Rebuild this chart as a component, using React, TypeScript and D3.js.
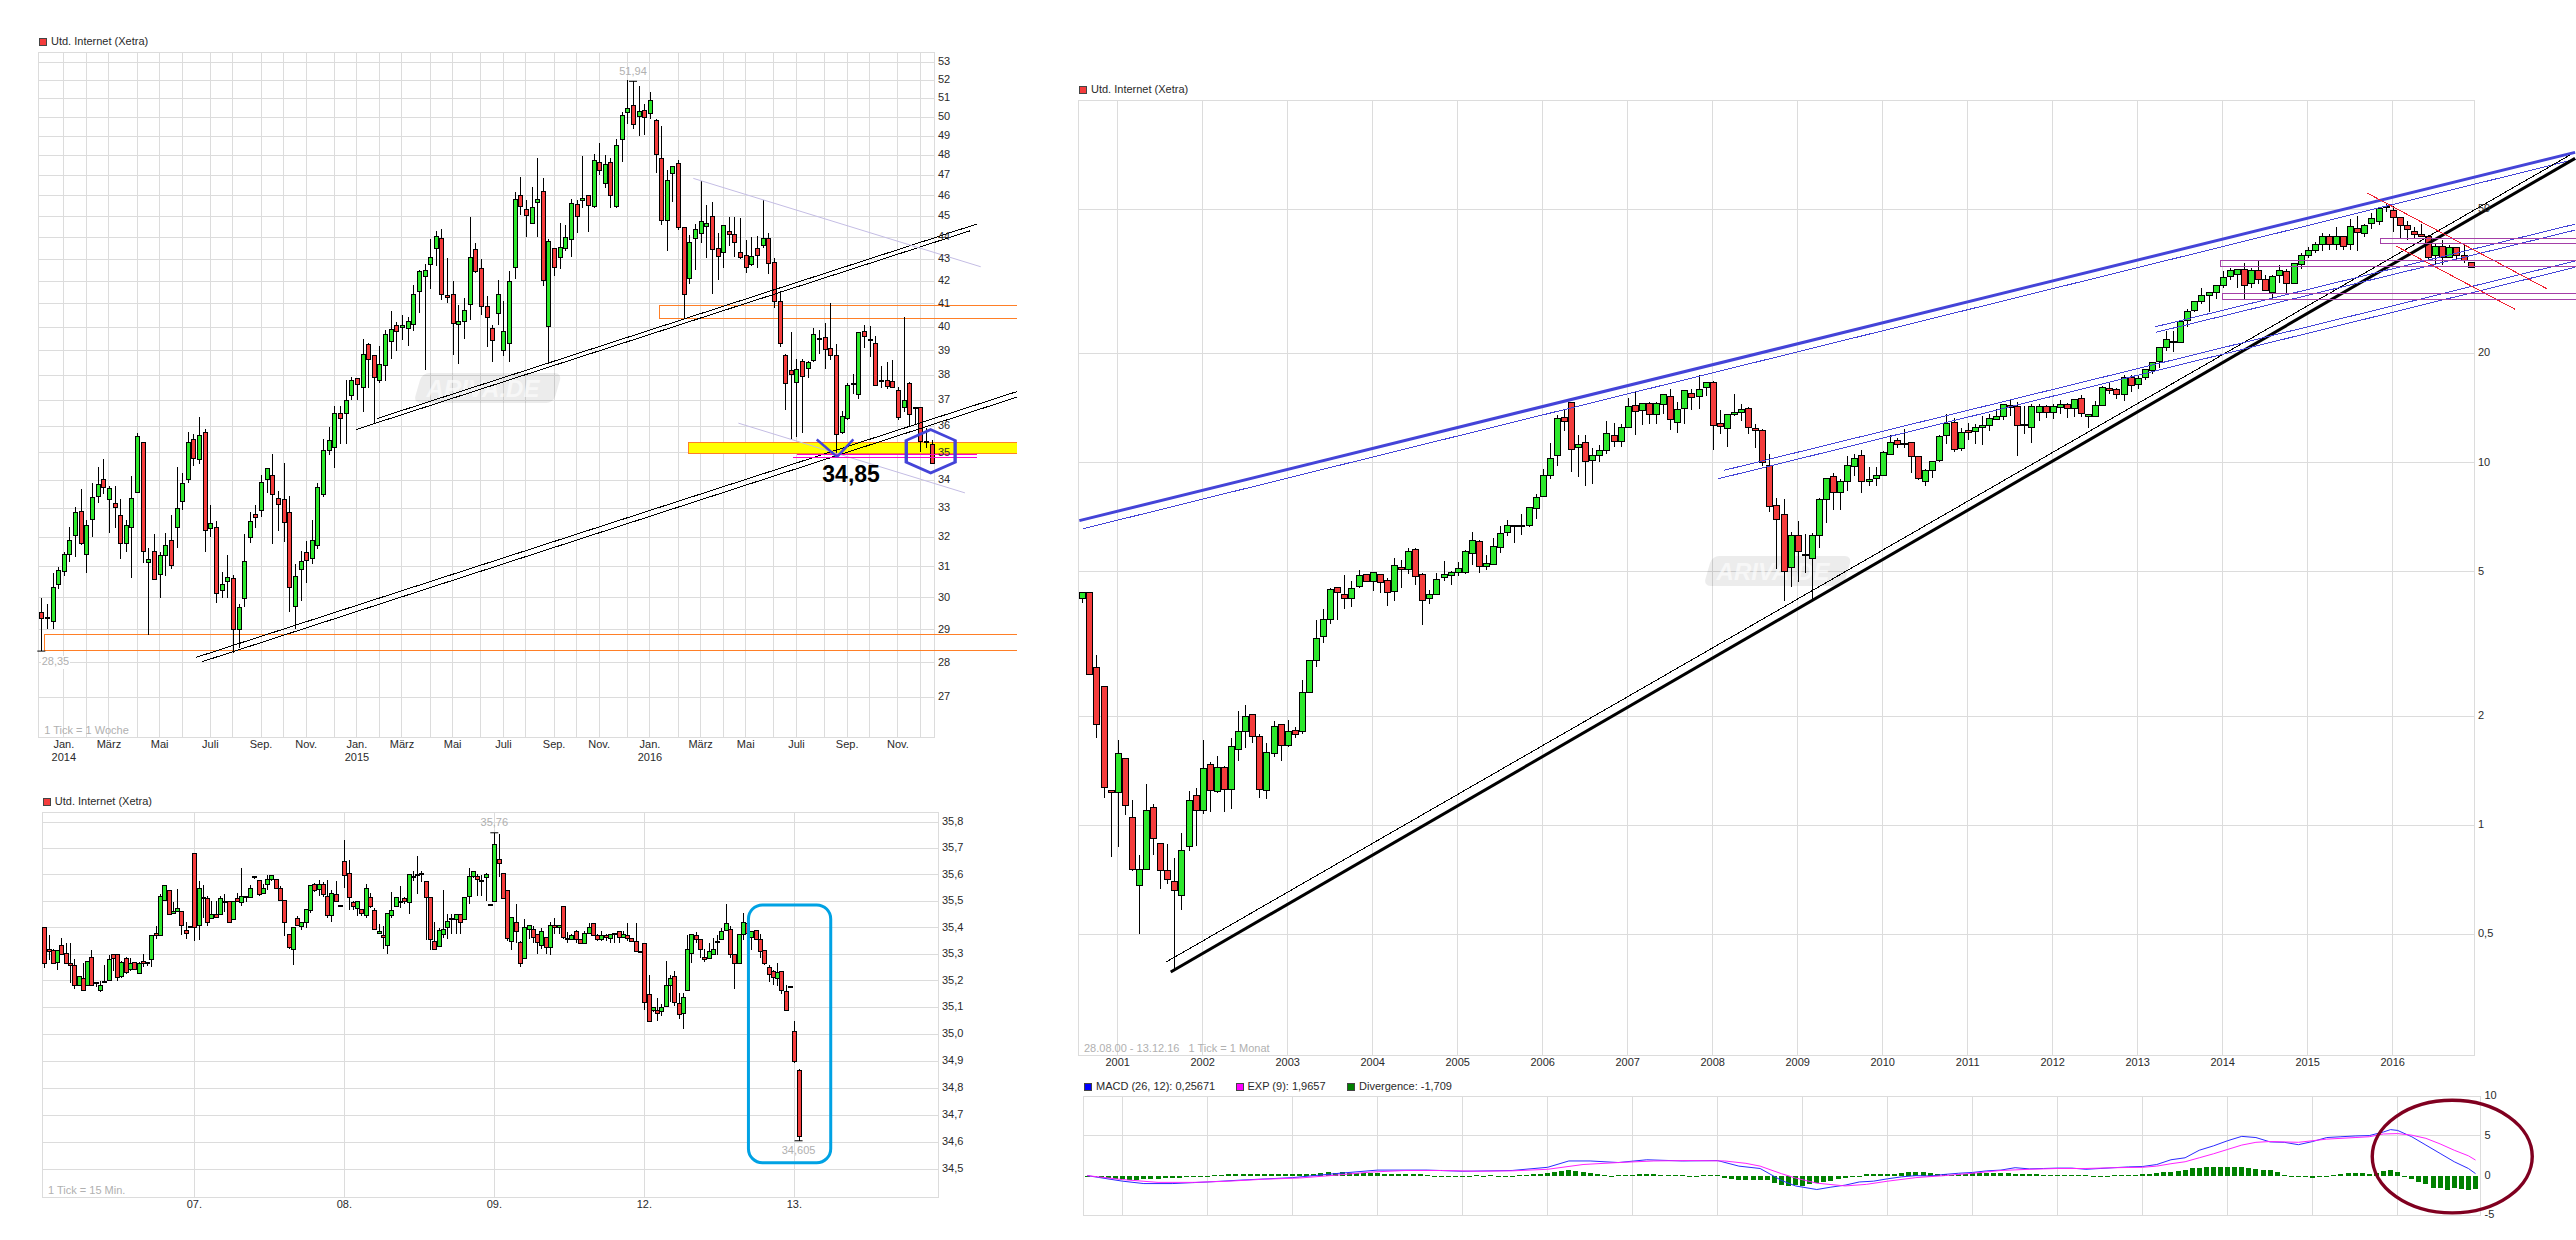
import * as d3 from "d3";

type Row = number[]; // open, high, low, close

const TITLE = "Utd. Internet (Xetra)";

// weekly chart, top left
const weeklyRows: Row[] = [
  [29.55,30,28.35,29.35],[29.38,29.8,29.02,29.37],[29.24,30.8,29.03,30.32],[30.42,31,30.27,30.9],[30.85,31.5,30.7,31.4],
  [31.4,32.35,31.17,31.9],[32.07,33.03,31.33,32.86],[32.9,33.67,31.74,31.77],[31.4,32.58,30.8,32.41],[32.6,33.88,32.02,33.38],
  [33.42,34.48,33.18,33.85],[34.03,34.78,33.49,33.74],[33.32,33.78,32.13,33.7],[33.18,33.78,32.3,33.04],[32.76,33.32,31.27,31.8],
  [31.77,32.6,31.5,32.41],[32.33,34.14,30.63,33.35],[33.56,35.75,33.56,35.6],[35.4,35.4,31.14,31.5],[31.14,31.63,28.84,31.24],
  [31.5,32.1,30.58,30.6],[30.75,31.5,30,31.37],[31.37,32.13,30.72,31.7],[31.9,32.76,30.95,31.04],[32.33,34.48,31.63,33],
  [33.25,34.25,32.93,33.88],[34.02,35.8,33.88,35.4],[35.5,35.7,34.5,34.78],[34.74,36.35,34.59,35.63],[35.75,35.9,31.5,32.24],
  [32.3,33.1,32,32.47],[32.33,32.55,29.85,30.13],[30.23,30.85,30,30.42],[30.52,31.4,30,30.65],[30.62,30.75,28.3,29.02],
  [29,29.8,28.45,29.68],[29.97,32.1,29.7,31.17],[32,32.86,31.8,32.55],[32.78,33.1,32.31,32.68],[32.93,34.2,32.68,33.92],
  [34.02,34.43,33.53,34.43],[34.17,34.95,31.75,33.49],[33.35,33.6,32.2,33.14],[33.32,34.63,31.85,32.5],[32.86,33.42,29.55,30.32],
  [29.72,31.1,29.02,30.7],[30.91,31.54,29.9,31.17],[31.47,31.87,30.47,31.21],[31.27,32.6,31.1,31.87],[31.7,33.88,31.6,33.74],
  [33.49,35.5,33.38,35.1],[35.08,35.98,34.93,35.45],[35.19,36.77,34.43,36.5],[36.5,36.77,35.33,36.31],[36.5,37.8,35.33,37],
  [37.2,37.92,37,37.8],[37.88,37.9,37.03,37.64],[37.52,39.5,36.56,38.86],[39.25,39.33,37.48,38.65],[38.83,38.83,36.1,37.92],
  [37.8,39.2,37.68,38.46],[38.42,39.87,37.76,39.67],[39.38,40.7,38.68,39.92],[40.09,40.22,38.99,39.83],[40,40.52,39.44,40.09],
  [39.96,40.43,39.2,40.26],[40.13,41.83,39.83,41.39],[41.55,42.5,40.6,42.45],[42.23,42.77,38.2,42.5],[42.77,43.95,41.65,43.09],
  [43.5,44.28,42.67,44.05],[43.95,44.38,41.17,41.39],[41.35,43.05,41.04,41.26],[41.43,42,38.83,40.17],[40.13,40.93,38.46,40.26],
  [40.22,41.26,39.5,40.7],[40.96,44.95,40.3,43.09],[43.45,43.72,42.36,42.45],[42.55,43,40.52,40.87],[40.87,41.35,39.17,40.39],
  [39.96,40.09,38.53,39.42],[40.57,42.05,40.09,41.43],[39,41.13,38.8,39.83],[39.33,42.45,38.53,42],[42.6,46.2,42.1,45.8],
  [46,46.9,45.05,45.48],[45.33,45.8,44,45.05],[44.65,46.4,44.65,45.42],[45.68,47.85,44,45.8],[46.2,46.85,41.77,42.05],
  [40.04,43.95,38.45,43.82],[43.5,43.5,42.23,42.63],[43.05,44.7,42.55,43.55],[43.5,44.6,43.36,44],[43.9,45.85,43.1,45.62],
  [45.57,45.8,44.2,45],[45.75,47.97,45.4,45.85],[46,46.05,44.25,45.5],[45.48,48.1,45.38,47.75],[47.65,48.65,47,47.25],
  [46.6,48.05,46.35,47.55],[47.65,47.9,45.4,46],[45.48,48.85,45.38,48.52],[48.8,50.3,47.65,50.1],[50.26,52,49.63,50.47],
  [50.63,51.94,49.39,49.6],[50.05,51.67,49,50.3],[50.37,50.7,49.05,50],[50.2,51.33,49.9,50.9],[49.8,49.9,47.1,48.05],
  [47.85,49.55,44.57,44.8],[44.8,47.25,43.36,46.75],[47.1,47.45,45.68,47.45],[47.6,47.75,44.33,44.48],[44.48,44.48,40.4,41.39],
  [42.1,44.13,41.87,43.77],[43.95,44.65,42.5,44.38],[44.2,46.7,43.72,44.75],[44.52,45.52,43.05,44.65],[45,45.7,41.43,43.45],
  [43.5,44.2,42.05,43.13],[43.32,44.6,42.6,44.57],[44.28,44.95,43.6,44.14],[44.14,44.95,43.09,43.77],[43.32,44.9,43,43.09],
  [43.18,43.86,42.36,42.63],[42.73,44,42.68,43.14],[43.5,44.05,42.6,43.18],[43.64,45.8,43.5,43.95],[43.95,44.2,42.32,42.82],
  [42.86,43.05,40.83,41.09],[41.09,41.55,39.17,39.33],[38.8,38.86,36.62,37.68],[38.2,39.78,35.52,38.04],[37.72,38.67,35.6,38.25],
  [38.58,38.67,35.75,37.96],[38.28,38.58,37.88,38.53],[38.62,39.96,38.53,39.67],[39.46,39.87,38.86,39.54],[39.58,40.17,38.25,39.04],
  [39.12,41.04,38.62,38.8],[38.8,39.3,34.85,35.69],[35.75,36.6,35.7,36.37],[36.3,37.68,36.25,37.6],[37.65,38.07,37.25,37.68],
  [37.25,39.78,37.04,39.78],[39.83,40.08,39.12,39.62],[39.46,40.04,38.75,39.42],[39.33,39.62,37.6,37.6],[37.8,38.37,37.48,37.76],
  [37.8,38.53,37.44,37.56],[37.76,38.62,37.48,37.52],[37.4,37.52,36.25,36.35],[36.73,40.43,36.54,37],[37.68,37.72,36.02,36.47],
  [36.72,36.75,36.06,36.7],[36.72,36.75,35.03,35.44],[35.41,35.94,35.19,35.37],[35.31,35.47,34.62,34.62],
];
const weeklyTicks = [4,8,12,17,21,25,30,34,39,43,47,52,56,60,64,69,73,78,82,86,91,95,99,104,108,113,117,121,125,130,134,139,143,147,152,156];
const weeklyLabelIndex = [4,12,21,30,39,47,56,64,73,82,91,99,108,117,125,134,143,152];
const weeklyLabels = ["Jan.","März","Mai","Juli","Sep.","Nov.","Jan.","März","Mai","Juli","Sep.","Nov.","Jan.","März","Mai","Juli","Sep.","Nov."];
const weeklyYears = [[4,"2014"],[56,"2015"],[108,"2016"]] as [number,string][];
const weeklyPriceTicks = d3.range(27, 54);

// 15 minute chart, bottom left
const intradayRows: Row[] = [
  [35.4,35.4,35.249,35.266],[35.318,35.374,35.277,35.311],[35.315,35.318,35.266,35.266],[35.27,35.315,35.24,35.315],[35.333,35.363,35.3,35.3],
  [35.304,35.344,35.266,35.266],[35.266,35.344,35.192,35.259],[35.259,35.281,35.169,35.184],[35.184,35.215,35.179,35.215],[35.207,35.266,35.165,35.165],
  [35.184,35.274,35.184,35.274],[35.289,35.315,35.184,35.184],[35.192,35.192,35.177,35.191],[35.165,35.2,35.16,35.181],[35.192,35.259,35.192,35.196],
  [35.2,35.296,35.2,35.281],[35.3,35.3,35.237,35.285],[35.3,35.3,35.2,35.211],[35.215,35.274,35.211,35.27],[35.285,35.289,35.226,35.23],
  [35.241,35.285,35.237,35.266],[35.27,35.27,35.241,35.244],[35.226,35.27,35.226,35.266],[35.274,35.3,35.252,35.266],[35.27,35.27,35.254,35.267],
  [35.281,35.37,35.252,35.37],[35.377,35.408,35.359,35.37],[35.37,35.527,35.37,35.519],[35.504,35.558,35.504,35.558],[35.542,35.542,35.45,35.45],
  [35.454,35.496,35.454,35.461],[35.461,35.546,35.461,35.473],[35.461,35.461,35.374,35.408],[35.388,35.423,35.359,35.377],[35.404,35.404,35.404,35.403],
  [35.681,35.681,35.348,35.4],[35.408,35.577,35.355,35.55],[35.515,35.561,35.435,35.512],[35.512,35.519,35.408,35.419],[35.435,35.5,35.435,35.45],
  [35.45,35.5,35.435,35.438],[35.45,35.519,35.45,35.512],[35.499,35.527,35.461,35.5],[35.5,35.5,35.419,35.419],[35.431,35.5,35.431,35.5],
  [35.512,35.531,35.496,35.5],[35.496,35.626,35.481,35.519],[35.519,35.519,35.496,35.518],[35.515,35.561,35.515,35.55],[35.592,35.593,35.586,35.59],
  [35.577,35.577,35.519,35.527],[35.531,35.565,35.527,35.55],[35.565,35.6,35.542,35.581],[35.581,35.596,35.577,35.596],[35.581,35.581,35.546,35.55],
  [35.55,35.558,35.504,35.504],[35.504,35.504,35.37,35.419],[35.374,35.374,35.318,35.326],[35.318,35.404,35.259,35.4],[35.435,35.446,35.408,35.408],
  [35.404,35.419,35.392,35.419],[35.419,35.469,35.4,35.469],[35.465,35.561,35.454,35.561],[35.565,35.569,35.535,35.542],[35.546,35.581,35.519,35.565],
  [35.565,35.573,35.515,35.527],[35.519,35.581,35.438,35.446],[35.446,35.542,35.423,35.531],[35.527,35.577,35.5,35.5],[35.485,35.485,35.484,35.484],
  [35.652,35.734,35.55,35.596],[35.607,35.655,35.465,35.515],[35.496,35.5,35.465,35.481],[35.473,35.5,35.446,35.5],[35.469,35.469,35.446,35.454],
  [35.446,35.565,35.438,35.55],[35.515,35.531,35.473,35.481],[35.465,35.473,35.392,35.392],[35.377,35.415,35.377,35.385],[35.37,35.408,35.318,35.363],
  [35.333,35.454,35.3,35.454],[35.446,35.535,35.435,35.465],[35.481,35.515,35.481,35.515],[35.496,35.558,35.473,35.5],[35.512,35.515,35.488,35.5],
  [35.496,35.6,35.45,35.6],[35.591,35.615,35.577,35.592],[35.599,35.67,35.527,35.6],[35.6,35.615,35.573,35.607],[35.573,35.573,35.355,35.515],
  [35.515,35.515,35.315,35.355],[35.348,35.423,35.318,35.318],[35.33,35.4,35.326,35.388],[35.374,35.542,35.363,35.392],[35.4,35.45,35.359,35.423],
  [35.435,35.45,35.377,35.431],[35.431,35.45,35.377,35.45],[35.45,35.45,35.377,35.419],[35.431,35.515,35.431,35.515],[35.519,35.626,35.488,35.592],
  [35.592,35.611,35.589,35.611],[35.592,35.604,35.519,35.581],[35.577,35.6,35.519,35.573],[35.589,35.607,35.5,35.6],[35.488,35.488,35.487,35.487],
  [35.5,35.76,35.5,35.715],[35.659,35.754,35.592,35.644],[35.607,35.607,35.512,35.512],[35.542,35.542,35.348,35.359],[35.348,35.438,35.315,35.438],
  [35.419,35.488,35.344,35.385],[35.344,35.348,35.252,35.266],[35.285,35.431,35.285,35.4],[35.392,35.408,35.359,35.408],[35.392,35.408,35.341,35.363],
  [35.374,35.377,35.3,35.344],[35.333,35.4,35.318,35.385],[35.363,35.363,35.3,35.326],[35.326,35.423,35.296,35.408],[35.408,35.438,35.375,35.401],
  [35.4,35.408,35.377,35.408],[35.481,35.481,35.359,35.363],[35.359,35.385,35.344,35.355],[35.355,35.377,35.355,35.37],[35.385,35.392,35.341,35.355],
  [35.355,35.355,35.341,35.341],[35.341,35.388,35.341,35.377],[35.377,35.419,35.377,35.4],[35.415,35.419,35.37,35.37],[35.37,35.377,35.348,35.355],
  [35.355,35.388,35.348,35.37],[35.37,35.377,35.348,35.363],[35.359,35.377,35.341,35.374],[35.377,35.377,35.341,35.376],[35.385,35.385,35.344,35.363],
  [35.363,35.388,35.363,35.374],[35.37,35.419,35.348,35.359],[35.359,35.359,35.348,35.348],[35.348,35.419,35.311,35.311],[35.311,35.311,35.31,35.31],
  [35.341,35.341,35.092,35.119],[35.15,35.222,35.048,35.048],[35.089,35.1,35.085,35.1],[35.089,35.135,35.048,35.077],[35.085,35.115,35.07,35.1],
  [35.104,35.274,35.104,35.181],[35.181,35.222,35.119,35.207],[35.215,35.237,35.104,35.119],[35.115,35.154,35.059,35.074],[35.077,35.154,35.018,35.138],
  [35.165,35.374,35.165,35.318],[35.304,35.374,35.266,35.374],[35.37,35.385,35.344,35.355],[35.355,35.359,35.285,35.318],[35.289,35.318,35.27,35.281],
  [35.285,35.341,35.285,35.311],[35.3,35.363,35.296,35.318],[35.344,35.374,35.296,35.348],[35.355,35.4,35.355,35.385],[35.388,35.488,35.388,35.415],
  [35.392,35.408,35.285,35.3],[35.3,35.3,35.169,35.266],[35.266,35.377,35.266,35.374],[35.374,35.454,35.355,35.419],[35.415,35.415,35.377,35.377],
  [35.363,35.388,35.315,35.385],[35.388,35.388,35.355,35.355],[35.355,35.377,35.285,35.311],[35.315,35.315,35.259,35.266],[35.252,35.259,35.196,35.222],
  [35.237,35.241,35.184,35.211],[35.207,35.266,35.181,35.23],[35.237,35.237,35.15,35.165],[35.159,35.184,35.089,35.089],[35.177,35.177,35.176,35.176],
  [35.011,35.048,34.893,34.9],[34.867,34.87,34.605,34.622],
];
const intradayTicks = [35, 70, 105, 140, 175];
const intradayLabels = ["07.", "08.", "09.", "12.", "13."];
const intradayPriceTicks = [35.8,35.7,35.6,35.5,35.4,35.3,35.2,35.1,35.0,34.9,34.8,34.7,34.6,34.5];

// monthly chart, right
const monthlyRows: Row[] = [
  [4.21,4.38,4.1,4.38],[4.38,4.38,2.61,2.61],[2.73,2.94,1.74,1.89],[2.42,2.42,1.19,1.27],[1.25,1.25,0.815,1.23],
  [1.23,1.72,0.87,1.58],[1.53,1.53,1.07,1.13],[1.05,1.17,0.748,0.755],[0.68,0.83,0.5,0.755],[0.755,1.3,0.755,1.1],
  [1.12,1.145,0.83,0.92],[0.89,0.89,0.665,0.75],[0.75,0.885,0.69,0.71],[0.7,0.81,0.4,0.66],[0.64,0.95,0.585,0.85],
  [0.875,1.24,0.85,1.17],[1.21,1.27,0.875,1.1],[1.1,1.72,1.075,1.43],[1.47,1.49,1.09,1.25],[1.24,1.55,1.225,1.44],
  [1.44,1.46,1.085,1.255],[1.255,1.74,1.11,1.65],[1.62,2.07,1.5,1.81],[1.81,2.14,1.63,2],[2.02,2.02,1.69,1.755],
  [1.755,1.79,1.19,1.255],[1.25,1.69,1.18,1.59],[1.575,1.94,1.54,1.87],[1.9,1.9,1.5,1.66],[1.66,1.95,1.64,1.81],
  [1.82,1.87,1.745,1.78],[1.81,2.51,1.78,2.32],[2.33,2.85,2.33,2.85],[2.85,3.69,2.73,3.28],[3.31,3.95,3.18,3.69],
  [3.69,4.52,3.59,4.46],[4.52,4.53,3.69,4.38],[4.32,4.9,3.95,4.21],[4.21,4.73,4,4.49],[4.54,5.06,4.52,4.88],
  [4.9,4.9,4.69,4.69],[4.69,5,4.42,4.97],[4.9,4.93,4.37,4.66],[4.73,4.81,4.02,4.39],[4.41,5.47,4.15,5.21],
  [5.15,5.4,4.51,5.07],[5.07,5.83,4.94,5.69],[5.77,5.83,4.59,4.84],[4.9,4.96,3.56,4.18],[4.21,4.46,4.08,4.32],
  [4.32,4.97,4.32,4.75],[4.81,5.36,4.71,4.9],[4.88,5.04,4.6,4.97],[4.97,5.33,4.88,5.1],[4.97,5.76,4.94,5.69],
  [5.62,6.44,5.23,6.1],[6.06,6.1,4.96,5.16],[5.18,5.58,5.07,5.26],[5.25,6.21,5.21,5.88],[5.84,6.68,5.62,6.37],
  [6.4,6.96,6.26,6.71],[6.67,6.75,6,6.71],[6.67,7.24,6.32,6.71],[6.71,7.56,6.65,7.52],[7.47,8.18,7,8.04],
  [8.08,9.58,8.04,9.21],[9.2,11.36,9,10.3],[10.45,13.5,9.77,13.2],[13.3,14,12.2,13],[14.7,14.7,9.45,10.85],
  [11,11.95,9.15,11.2],[11.35,11.9,8.6,10.05],[10.15,10.95,8.75,10.45],[10.45,11.2,10.05,10.8],[10.8,13,10.6,12],
  [11.9,12.9,11.05,11.45],[11.45,12.8,11.05,12.5],[12.5,15.1,12.5,14.3],[14.4,15.8,11.9,13.8],[13.9,14.55,12.7,14.55],
  [14.55,14.7,12.8,13.6],[13.6,14.7,12.75,14.55],[14.45,15.5,13.65,15.4],[15.2,16,12.3,13.15],[12.9,14.7,12.1,14],
  [14.1,15.9,12.8,15.8],[15.5,16,14,15.1],[15.2,17.4,14.1,15.9],[16.1,16.6,15.3,16.6],[16.6,16.8,10.85,12.7],
  [12.8,14,12,12.55],[12.4,13.6,11.05,13.6],[13.6,15.5,13.45,13.75],[13.75,14.55,13,14],[14.1,14.2,12,12.5],
  [12.4,12.8,11,12.3],[12.25,12.4,9.8,10],[9.8,10.6,7.33,7.56],[7.6,8,5.1,6.96],[7.18,7.95,4.16,5],
  [5.13,6.45,4.55,6.3],[6.3,6.92,4.69,5.68],[5.58,6.37,4.95,5.54],[5.43,6.41,4.21,6.3],[6.3,8,5.8,7.9],
  [7.9,9.09,6.83,9.03],[9.15,9.38,7.4,8.3],[8.26,9.03,7.4,8.9],[8.9,10.45,8.36,9.8],[9.75,10.6,9.2,10.25],
  [10.45,10.85,8.26,8.87],[8.87,9.7,8.6,8.98],[9.03,9.7,8.65,9.2],[9.2,10.8,9.2,10.65],[10.5,11.9,10.5,11.35],
  [11.5,11.7,10.95,11.2],[11.27,12.4,10.95,11.23],[11.35,11.35,9.38,10.4],[10.4,10.45,8.98,9.03],[8.9,9.62,8.6,9.5],
  [9.5,10.05,9.09,10.05],[10.15,11.95,10.05,11.8],[11.9,13.6,11.27,12.8],[12.9,13.3,10.7,10.85],[10.95,12.5,10.8,12.1],
  [12.25,12.9,11.55,12.1],[12.2,12.8,11.27,12.5],[12.5,13.45,11.2,12.7],[12.7,13.65,12.25,13.2],[13.15,14.1,13.1,13.45],
  [13.45,14.45,13.1,14.45],[14.4,14.9,13.45,14.2],[14.3,14.7,10.45,12.7],[12.75,14.3,12,12.7],[12.5,14.55,11.35,14.3],
  [13.75,14.55,13,14.3],[14.3,14.4,13.25,13.75],[13.75,14.55,13.2,14.3],[14.2,14.9,13.65,14.45],[14.5,14.6,13.3,14.1],
  [14.1,14.98,13.4,14.9],[15,15.33,13.35,13.7],[13.45,13.55,12.45,13.55],[13.45,14.75,13.4,14.35],[14.35,16.3,14.35,16.1],
  [16,16.6,15.5,15.8],[15.9,16.1,15,15.4],[15.4,17.5,14.75,17.15],[17.15,17.4,15.65,16.3],[16.4,17.4,16,17.05],
  [17.15,18.05,16.95,18.05],[17.95,19,17.6,18.85],[19,20.8,18.3,20.8],[20.8,23.1,20.35,21.9],[21.5,23.1,20.2,21.65],
  [21.5,24.7,21.5,24.5],[24.7,26.5,23.7,26.1],[26.3,27.9,26.1,27.9],[27.9,30.4,27.4,29],[29,29.6,26,29.4],
  [29.4,30.8,28.3,30.8],[30.9,33.8,30.4,32.4],[32.6,34.5,32,33.8],[33,34.3,30.4,34.1],[34.1,35.6,28.3,30.8],
  [31.2,34.5,30.4,33.8],[33.8,36.2,31.2,32.1],[32.1,33,29.8,29.8],[29.4,33,28.3,32.6],[32.8,35,31.4,33.8],
  [33.6,34.3,29,31.2],[31.2,35.6,31.2,35.4],[35.2,37.9,34.3,37.4],[37.2,39.4,36.7,38.4],[38.4,40.7,37.9,39.9],
  [39.9,43.1,38.4,42.2],[42,42.8,38.7,39.9],[39.9,44.7,38.7,42.2],[42.2,42.2,38.7,39.6],[40.1,47,38.7,44.7],
  [44.4,47.9,38.4,43.1],[42.8,45.6,42,45.1],[45.6,48.8,44.2,47.2],[46.3,50.3,45.3,50.2],[50.5,51.6,49,51],
  [49.7,50.9,43.3,47.5],[47.5,47.5,41.4,45.1],[45.1,46.3,41.2,43.9],[43.3,44.7,41.4,42.5],[42.5,45.6,42.2,42.2],
  [42.2,42.5,36.2,36.9],[37.4,40,35.4,39.4],[39.4,41.1,35,36.7],[36.7,39.9,36.7,39.2],[39.2,39.4,36.5,37.2],
  [37.2,39.9,35.6,36.1],[35.6,35.6,34.6,34.6],
];
const yearTicks = d3.range(5, 186, 12);
const yearLabels = d3.range(2001, 2017).map(String);
const monthlyPriceTicks = [50, 20, 10, 5, 2, 1, 0.5];

// MACD panel, values read at these months
const macdMonths = [0,5,8,12,17,22,29,35,41,48,53,60,65,68,71,75,79,84,89,92,95,98,100,103,105,107,109,111,113,115,117,119,121,123,125,127,129,131,133,135,137,139,141,143,145,147,149,151,153,155,157,159,161,163,165,167,169,171,173,175,177,179,181,183,184,185,187,189,191,193,195,196];
const macdValues = [0,-0.7,-1,-1,-0.8,-0.55,-0.25,0.25,0.7,0.7,0.55,0.65,1.05,1.85,1.85,1.65,2,1.85,1.9,1.2,0.9,-0.6,-1.3,-1.75,-1.45,-1.2,-0.8,-0.7,-0.4,-0.15,0,-0.05,0.15,0.3,0.4,0.6,0.7,1,0.85,0.9,0.95,0.95,0.8,0.9,1,1.1,1.15,1.4,2,2.25,3.2,3.75,4.4,4.95,4.8,4.25,4.2,3.9,4.3,4.8,4.9,5,5.05,5.5,5.8,5.7,4.9,3.85,2.8,1.75,0.9,0.257];
const expMonths = [0,5,10,15,20,25,30,35,40,45,50,55,60,65,70,75,80,85,90,93,95,98,100,103,107,110,113,117,121,125,129,133,137,141,145,149,151,153,155,157,159,161,163,165,167,171,175,179,181,183,185,187,189,191,193,195,196];
const expValues = [0,-0.5,-0.85,-0.85,-0.7,-0.45,-0.3,0.05,0.45,0.65,0.65,0.55,0.6,0.8,1.4,1.65,1.85,1.9,1.85,1.55,1.2,0.25,-0.3,-0.95,-1.3,-1.1,-0.7,-0.25,0,0.3,0.65,0.8,0.9,0.9,1,1.05,1.2,1.5,1.75,2.25,2.75,3.3,3.85,4.2,4.3,4.2,4.6,4.8,4.9,5.25,5.3,5.1,4.7,4,3.2,2.5,1.966];
const divergence = [
  -0.1,-0.2,-0.3,-0.35,-0.4,-0.45,-0.5,-0.5,-0.45,-0.4,-0.4,-0.35,-0.35,-0.25,-0.1,-0.1,-0.08,-0.05,0.05,0.05,
  0.2,0.25,0.25,0.2,0.2,0.2,0.2,0.2,0.2,0.2,0.15,0.15,0.25,0.35,0.4,0.35,0.4,0.35,0.35,0.3,
  0.35,0.3,0.25,0.25,0.25,0.2,0.2,0.15,0.1,-0.1,-0.15,-0.15,-0.15,-0.15,-0.15,0.05,-0.1,0.05,-0.1,-0.05,
  -0.05,0.05,0.05,0.15,0.2,0.3,0.4,0.55,0.7,0.55,0.4,0.3,0.2,0.03,-0.05,0.03,0.03,0.1,0.15,0.15,
  0.15,0.1,0.1,0.1,0.1,-0.05,-0.1,0.03,0.03,0.03,-0.25,-0.45,-0.55,-0.55,-0.55,-0.6,-0.6,-0.9,-1.2,-1.25,
  -1.15,-1.3,-1.1,-0.9,-0.8,-0.7,-0.4,-0.3,-0.2,-0.05,0.15,0.25,0.25,0.25,0.25,0.3,0.4,0.4,0.4,0.35,
  0.2,0.15,0.1,0.15,0.2,0.3,0.3,0.3,0.3,0.3,0.3,0.25,0.2,0.2,0.15,0.1,0.05,0.03,0.03,0.03,
  0.03,0.03,-0.1,-0.1,-0.05,0.03,0.03,0.1,0.1,0.15,0.2,0.3,0.4,0.5,0.55,0.7,0.9,1,1.05,1.05,
  1.05,1.05,1.15,1.15,1,0.8,0.65,0.65,0.4,0.1,-0.05,-0.1,-0.15,-0.35,-0.2,-0.05,0.1,0.25,0.35,0.35,
  0.3,0.15,0.3,0.6,0.7,0.4,-0.05,-0.4,-0.8,-1.1,-1.5,-1.55,-1.75,-1.6,-1.7,-1.8,-1.709,
];
const macdTicks = [10, 5, 0, -5];

const GRID = "#dcdcdc";
const RED = "#f43c3c";
const GREEN = "#2ce82c";
const TEXT = "#2a2a2a";
const NOTE = "#b0b0b0";
const BLUE = "#4444d8";
const PURPLE = "#a43fa8";
const ORANGE = "#ff7f27";
const FONT = "'Liberation Sans', Arial, sans-serif";

function Candles({ rows, x, y, w }: { rows: Row[]; x: (i: number) => number; y: (v: number) => number; w: number }) {
  return (
    <g shapeRendering="crispEdges">
      {rows.map(([o, h, l, c], i) => {
        const cx = Math.round(x(i));
        const top = y(Math.max(o, c));
        const bottom = y(Math.min(o, c));
        return (
          <g key={i}>
            <line x1={cx + 0.5} x2={cx + 0.5} y1={y(h)} y2={y(l)} stroke="#000" />
            <rect x={cx + 0.5 - w / 2} y={top} width={w} height={Math.max(1, bottom - top)} fill={c >= o ? GREEN : RED} stroke="#000" />
          </g>
        );
      })}
    </g>
  );
}

function Legend({ x, y, color, label }: { x: number; y: number; color: string; label: string }) {
  return (
    <g>
      <rect x={x} y={y - 3.5} width={7} height={7} fill={color} stroke="#444" shapeRendering="crispEdges" />
      <text x={x + 11.5} y={y} dominantBaseline="middle" fontSize={11} fill={TEXT}>{label}</text>
    </g>
  );
}

function Watermark({ x, y }: { x: number; y: number }) {
  return (
    <g transform={`translate(${x},${y})`}>
      <rect x={0} y={0} width={140} height={30} rx={7} fill="#000" opacity={0.075} transform="skewX(-16) translate(9,0)" />
      <text x={70} y={23.7} textAnchor="middle" fontSize={24} fontWeight="bold" fontStyle="italic" fill="#fff" opacity={0.6}>ARIVA.DE</text>
    </g>
  );
}

function Note({ x, y, label, anchor = "middle" }: { x: number; y: number; label: string; anchor?: string }) {
  return <text x={x} y={y} textAnchor={anchor as any} dominantBaseline="middle" fontSize={11} fill={NOTE}>{label}</text>;
}

function WeeklyChart() {
  const x = d3.scaleLinear().domain([0, 158]).range([41.3, 931.7]);
  const y = d3.scaleLog().domain([27, 53]).range([697, 62.3]);
  const seg = (a: number[], b: number[], stroke: string, width = 1, crisp = true) => (
    <line x1={x(a[0])} y1={y(a[1])} x2={x(b[0])} y2={y(b[1])} stroke={stroke} strokeWidth={width} shapeRendering={crisp ? "crispEdges" : "auto"} />
  );
  // open on the right: only top, left and bottom sides are drawn
  const band = (i0: number, i1: number, hi: number, lo: number, fill: string) => (
    <g shapeRendering="crispEdges">
      <rect x={x(i0)} y={y(hi)} width={x(i1) - x(i0)} height={y(lo) - y(hi)} fill={fill} />
      <path d={`M${x(i1)},${y(hi)}H${x(i0)}V${y(lo)}H${x(i1)}`} fill="none" stroke={ORANGE} />
    </g>
  );
  const hex = d3.lineRadial<number>().angle((d) => d).radius(21.7).curve(d3.curveLinearClosed)(d3.range(6).map((k) => (k * Math.PI) / 3));
  return (
    <g>
      <Legend x={39.5} y={42} color={RED} label={TITLE} />
      <g stroke={GRID} shapeRendering="crispEdges">
        <rect x={38.5} y={52.5} width={896} height={684.5} fill="none" />
        {weeklyPriceTicks.map((t) => <line key={t} x1={38.5} x2={934.5} y1={y(t)} y2={y(t)} />)}
        {weeklyTicks.map((t) => <line key={t} x1={x(t)} x2={x(t)} y1={52.5} y2={737} />)}
      </g>
      <Watermark x={413} y={373} />
      {band(109.7, 173.2, 40.94, 40.38, "none")}
      {band(0.53, 173.2, 28.86, 28.37, "none")}
      {band(114.8, 173.2, 35.39, 34.98, "#ffff00")}
      <Candles rows={weeklyRows} x={x} y={y} w={4} />
      <line x1={x(0) - 4} x2={x(0) + 4} y1={y(28.35)} y2={y(28.35)} stroke="#000" />
      <line x1={x(105) - 4} x2={x(105) + 4} y1={y(51.94)} y2={y(51.94)} stroke="#000" />
      {seg([59.63, 36.3], [166, 44.63], "#000")}
      {seg([55.9, 35.88], [164.8, 44.31], "#000")}
      {seg([27.45, 28.16], [173.1, 37.35], "#000")}
      {seg([28.5, 28.03], [173.1, 37.13], "#000")}
      {seg([115.7, 46.85], [166.7, 42.65], "#c4bde4", 1, false)}
      {seg([123.7, 36.12], [163.9, 33.54], "#c4bde4", 1, false)}
      {seg([134.05, 34.95], [166, 34.95], "#ff00c8")}
      {seg([133.45, 34.83], [166, 34.83], "#ff00c8")}
      {seg([137.6, 35.5], [141.2, 34.85], BLUE, 2.5, false)}
      {seg([144.1, 35.5], [141.2, 34.85], BLUE, 2.5, false)}
      <path d={hex ?? ""} transform={`translate(${x(158) - 1},${y(35) - 1.5}) scale(1.3,1)`} fill="none" stroke={BLUE} strokeWidth={2.6} />
      <text x={x(143.7)} y={y(34.85) + 25} textAnchor="middle" fontSize={23} fontWeight="bold" fill="#000">34,85</text>
      <g>
        {weeklyPriceTicks.map((t) => <text key={t} x={938} y={y(t)} dominantBaseline="middle" fontSize={11} fill={TEXT}>{t}</text>)}
        {weeklyLabels.map((l, k) => <text key={k} x={x(weeklyLabelIndex[k])} y={745} textAnchor="middle" dominantBaseline="middle" fontSize={11} fill={TEXT}>{l}</text>)}
        {weeklyYears.map(([i, l]) => <text key={l} x={x(i)} y={758} textAnchor="middle" dominantBaseline="middle" fontSize={11} fill={TEXT}>{l}</text>)}
      </g>
      <Note x={x(105)} y={72.3} label="51,94" />
      <rect x={41} y={656} width={29} height={13} fill="#fff" />
      <Note x={41.7} y={662.3} anchor="start" label="28,35" />
      <Note x={44.3} y={731} anchor="start" label="1 Tick = 1 Woche" />
    </g>
  );
}

function IntradayChart() {
  const x = d3.scaleLinear().domain([0, 175]).range([44.3, 794.3]);
  const y = d3.scaleLog().domain([34.5, 35.8]).range([1169.3, 822.3]);
  const fmt = (v: number) => v.toFixed(1).replace(".", ",");
  return (
    <g>
      <Legend x={43.3} y={802} color={RED} label={TITLE} />
      <g stroke={GRID} shapeRendering="crispEdges">
        <rect x={42.5} y={812.5} width={896} height={384.5} fill="none" />
        {intradayPriceTicks.map((t) => <line key={t} x1={42.5} x2={938.5} y1={y(t)} y2={y(t)} />)}
        {intradayTicks.map((t) => <line key={t} x1={x(t)} x2={x(t)} y1={812.5} y2={1197} />)}
      </g>
      <Candles rows={intradayRows} x={x} y={y} w={3.6} />
      <line x1={x(105) - 4} x2={x(105) + 4} y1={y(35.76)} y2={y(35.76)} stroke="#000" />
      <line x1={x(176) - 4} x2={x(176) + 4} y1={y(34.605)} y2={y(34.605)} stroke="#000" />
      <rect x={x(164.3)} y={y(35.486)} width={x(183.5) - x(164.3)} height={y(34.524) - y(35.486)} rx={14} fill="none" stroke="#00a2e4" strokeWidth={3} />
      {intradayPriceTicks.map((t) => <text key={t} x={942} y={y(t)} dominantBaseline="middle" fontSize={11} fill={TEXT}>{fmt(t)}</text>)}
      {intradayTicks.map((t, k) => <text key={t} x={x(t)} y={1205} textAnchor="middle" dominantBaseline="middle" fontSize={11} fill={TEXT}>{intradayLabels[k]}</text>)}
      <Note x={x(105)} y={823.3} label="35,76" />
      <Note x={x(176)} y={1151} label="34,605" />
      <Note x={48} y={1191} anchor="start" label="1 Tick = 15 Min." />
    </g>
  );
}

function MonthlyChart() {
  const x = d3.scaleLinear().domain([0, 196]).range([1082.3, 2470.6]);
  const y = d3.scaleLog().domain([0.5, 50]).range([934.3, 209.3]);
  const seg = (a: number[], b: number[], stroke: string, width = 1) => (
    <line x1={x(a[0])} y1={y(a[1])} x2={x(b[0])} y2={y(b[1])} stroke={stroke} strokeWidth={width} shapeRendering={width === 1 ? "crispEdges" : "auto"} />
  );
  const box = (i0: number, hi: number, lo: number) => (
    <rect x={x(i0)} y={y(hi)} width={2600 - x(i0)} height={y(lo) - y(hi)} fill="none" stroke={PURPLE} strokeWidth={1} shapeRendering="crispEdges" />
  );
  return (
    <g>
      <Legend x={1079.5} y={90} color={RED} label={TITLE} />
      <g stroke={GRID} shapeRendering="crispEdges">
        <rect x={1078.5} y={100.5} width={1396} height={955} fill="none" />
        {monthlyPriceTicks.map((t) => <line key={t} x1={1078.5} x2={2474.5} y1={y(t)} y2={y(t)} />)}
        {yearTicks.map((t) => <line key={t} x1={x(t)} x2={x(t)} y1={100.5} y2={1055.5} />)}
      </g>
      <Watermark x={1703} y={556} />
      <Candles rows={monthlyRows} x={x} y={y} w={6} />
      {seg([-0.42, 6.92], [210.75, 71.8], BLUE, 3)}
      {seg([0.14, 6.575], [210.9, 68.8], BLUE)}
      {seg([12.48, 0.3935], [210.75, 69.1], "#000", 3)}
      {seg([11.77, 0.4186], [210.04, 70.6], "#000")}
      {seg([90.64, 9.53], [210.75, 36], BLUE)}
      {seg([89.8, 9.03], [210.75, 34.6], BLUE)}
      {seg([151.45, 23.7], [210.75, 45.5], BLUE)}
      {seg([151.6, 22.9], [210.75, 43.8], BLUE)}
      {seg([181.42, 55.4], [206.75, 30.2], "#f02030")}
      {seg([185.47, 39.6], [202.27, 26.5], "#f02030")}
      {box(160.7, 36.1, 34.7)}
      {box(161, 29.3, 28.2)}
      {box(183.3, 41.6, 40.2)}
      {monthlyPriceTicks.map((t) => <text key={t} x={2478} y={y(t)} dominantBaseline="middle" fontSize={11} fill={TEXT}>{String(t).replace(".", ",")}</text>)}
      {yearTicks.map((t, k) => <text key={t} x={x(t)} y={1063} textAnchor="middle" dominantBaseline="middle" fontSize={11} fill={TEXT}>{yearLabels[k]}</text>)}
      <Note x={1084} y={1049} anchor="start" label={"28.08.00 - 13.12.16\u00a0\u00a0\u00a01 Tick = 1 Monat"} />
    </g>
  );
}

function MacdPanel() {
  const x = d3.scaleLinear().domain([0, 196]).range([1087.2, 2475.5]);
  const y = d3.scaleLinear().domain([-5, 10]).range([1215.3, 1096.3]);
  const macdLine = d3.line<number>().x((d) => x(d)).y((_, k) => y(macdValues[k]));
  const expLine = d3.line<number>().x((d) => x(d)).y((_, k) => y(expValues[k]));
  return (
    <g>
      <Legend x={1084.5} y={1086.7} color="#0000ff" label="MACD (26, 12): 0,25671" />
      <Legend x={1236} y={1086.7} color="#ff00ff" label="EXP (9): 1,9657" />
      <Legend x={1347.5} y={1086.7} color="#008000" label="Divergence: -1,709" />
      <g stroke={GRID} shapeRendering="crispEdges">
        <rect x={1083.5} y={1096.5} width={1396.5} height={119} fill="none" />
        <line x1={1083.5} x2={2480} y1={y(5)} y2={y(5)} />
        {yearTicks.map((t) => <line key={t} x1={x(t)} x2={x(t)} y1={1096.5} y2={1215.5} />)}
      </g>
      <g fill="#008000" shapeRendering="crispEdges">
        {divergence.map((v, i) => (
          <rect key={i} x={x(i) - 2.5} y={Math.min(y(v), y(0))} width={5} height={Math.max(1, Math.abs(y(v) - y(0)))} />
        ))}
      </g>
      <path d={macdLine(macdMonths) ?? ""} fill="none" stroke="#2a2aff" strokeWidth={1} />
      <path d={expLine(expMonths) ?? ""} fill="none" stroke="#ff22ff" strokeWidth={1} />
      {macdTicks.map((t) => <text key={t} x={2484.5} y={y(t)} dominantBaseline="middle" fontSize={11} fill={TEXT}>{t}</text>)}
      <ellipse cx={x(193) - 2} cy={y(2.4)} rx={80} ry={56.3} fill="none" stroke="#800020" strokeWidth={3.4} />
    </g>
  );
}

export default function App() {
  return (
    <svg width={2576} height={1240} style={{ position: "absolute", left: 0, top: 0, background: "#fff" }} fontFamily={FONT}>
      <WeeklyChart />
      <IntradayChart />
      <MonthlyChart />
      <MacdPanel />
    </svg>
  );
}
